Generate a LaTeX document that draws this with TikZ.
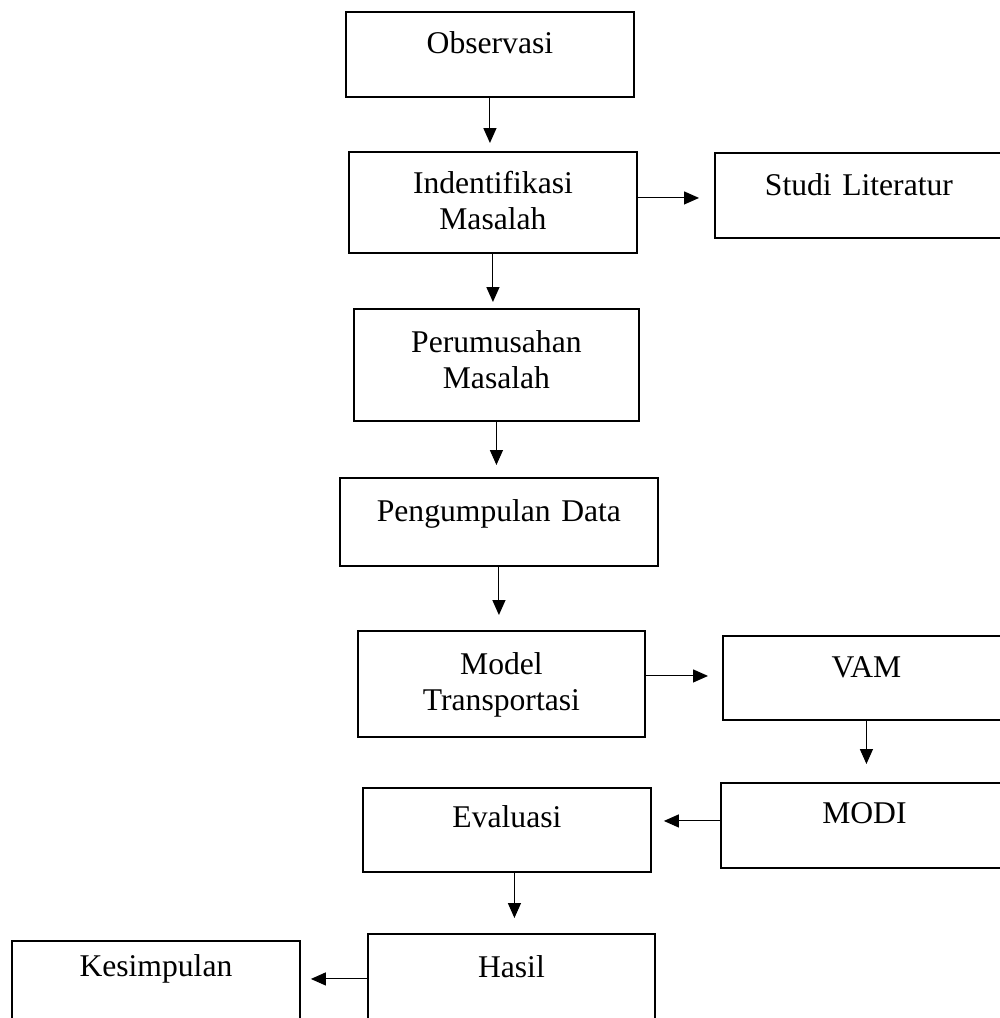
\documentclass[tikz,border=0pt]{standalone}
\usepackage{fontspec}
\setmainfont{Liberation Serif}
\usetikzlibrary{arrows.meta,positioning}

\begin{document}
\begin{tikzpicture}[x=0.02cm, y=-0.02cm,
	box/.style={draw, rectangle, line width=1.1pt, inner sep=0pt, align=center, anchor=north west, font=\fontsize{18pt}{20pt}\selectfont},
	arr/.style={-{Triangle[length=8.5pt,width=7.4pt]}, line width=0.6pt}]
				\useasboundingbox (0,0) rectangle (1000,1018);
				
				% Draw main column of steps
				\node[box, text width=5.76cm, text height=0.84cm, text depth=0.86cm] (obs) at (345,11) {Observasi};
				\node[box, text width=5.76cm, text height=0.84cm, text depth=1.18cm] (ind) at (348,151) {Indentifikasi\\Masalah};
				\node[box, text width=5.70cm, text height=0.88cm, text depth=1.36cm] (per) at (353,308) {Perumusahan\\Masalah};
				\node[box, text width=6.36cm, text height=0.88cm, text depth=0.88cm] (peng) at (339,477) {Pengumpulan Data};
				\node[box, text width=5.74cm, text height=0.88cm, text depth=1.24cm] (model) at (357,630) {Model\\Transportasi};
				\node[box, text width=5.76cm, text height=0.80cm, text depth=0.88cm] (eval) at (362,787) {Evaluasi};
				\node[box, text width=5.74cm, text height=0.88cm, text depth=1.12cm] (hasil) at (367,933) {Hasil};
				
				% Draw side boxes
				\node[box, text width=5.76cm, text height=0.86cm, text depth=0.84cm] (stu) at (714,152) {Studi Literatur};
				\node[box, text width=5.74cm, text height=0.84cm, text depth=0.84cm] (vam) at (722,635) {VAM};
				\node[box, text width=5.74cm, text height=0.82cm, text depth=0.88cm] (modi) at (720,782) {MODI};
				\node[box, text width=5.76cm, text height=0.72cm, text depth=1.28cm] (kesim) at (11,940) {Kesimpulan};
				
				% Vertical arrows
				\draw[arr, shorten >=0.16cm] (obs.south) -- (obs.south |- ind.north);
				\draw[arr, shorten >=0.12cm] (ind.south) -- (ind.south |- per.north);
				\draw[arr, shorten >=0.24cm] (per.south) -- (per.south |- peng.north);
				\draw[arr, shorten >=0.30cm] (peng.south) -- (peng.south |- model.north);
				\draw[arr, shorten >=0.36cm] (vam.south) -- (vam.south |- modi.north);
				\coordinate (c4) at ([xshift=0.15cm]eval.south);
				\draw[arr, shorten >=0.30cm] (c4) -- (c4 |- hasil.north);
				
				% Horizontal arrows
				\coordinate (c1) at ([yshift=0.09cm]ind.east);
				\draw[arr, shorten >=0.30cm] (c1) -- (c1 -| stu.west);
				\coordinate (c2) at ([yshift=0.16cm]model.east);
				\draw[arr, shorten >=0.28cm] (c2) -- (c2 -| vam.west);
				\coordinate (c3) at ([yshift=0.09cm]modi.west);
				\draw[arr, shorten >=0.24cm] (c3) -- (c3 -| eval.east);
				\coordinate (c5) at ([yshift=0.10cm]hasil.west);
				\draw[arr, shorten >=0.20cm] (c5) -- (c5 -| kesim.east);
			\end{tikzpicture}
\end{document}
